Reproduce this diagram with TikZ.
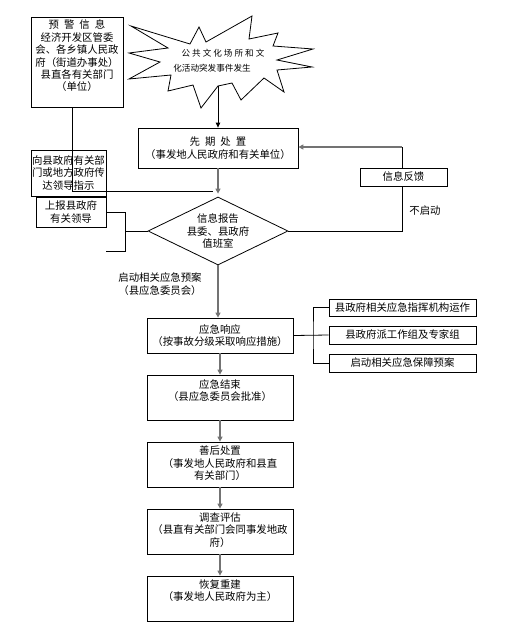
\documentclass[tikz,border=0pt]{standalone}
\usepackage{fontspec}
\setmainfont{Noto Sans CJK SC}
\usetikzlibrary{arrows.meta,shapes.geometric,backgrounds}
\begin{document}
\begin{tikzpicture}[x=1pt,y=-1pt,
  box/.style={draw, line width=0.8pt, fill=white, inner sep=0pt},
  txt/.style={align=center, inner sep=0pt, font=\fontsize{10.4}{12.4}\selectfont},
  ln/.style={line width=0.8pt},
  arr/.style={ln, -{Triangle[length=5pt,width=4.5pt]}},
  garr/.style={line width=1.3pt, draw=black!55, -{Triangle[length=5pt,width=5pt]}}
]
\useasboundingbox (0,0) rectangle (506,635);

% warning box
\node[box, minimum width=92pt, minimum height=90pt] (warn) at (77,62) {};
\node[txt] (warnt) at (77,56) {预\hspace{5pt}警\hspace{5pt}信\hspace{5pt}息\\经济开发区管委\\会、各乡镇人民政\\府（街道办事处）\\县直各有关部门\\（单位）};

% starburst
\draw[ln, fill=white] (131,26) -- (190,44) -- (199,27) -- (206,42) -- (252,16) -- (249,39)
  -- (278,33) -- (273,46) -- (313,49) -- (277,60) -- (312,67) -- (277,70) -- (284,92)
  -- (264,78) -- (241,100) -- (232,83) -- (218,86) -- (201,108) -- (193,85) -- (168,91)
  -- (171,75) -- (129,79) -- (160,62) -- (129,53) -- (168,48) -- cycle;
\coordinate (burstbot) at (218,86);
\node[inner sep=0pt, font=\fontsize{8.6}{10}\selectfont] (bt1) at (223,53) {公\hspace{2pt}共\hspace{2pt}文\hspace{2pt}化\hspace{2pt}场\hspace{2pt}所\hspace{2pt}和\hspace{2pt}文};
\node[inner sep=0pt, font=\fontsize{8.6}{10}\selectfont] (bt2) at (212,68) {化活动突发事件发生};

% first response
\node[box, txt, minimum width=160pt, minimum height=40pt] (first) at (218,148) {先\hspace{5pt}期\hspace{5pt}处\hspace{5pt}置\\（事发地人民政府和有关单位）};

% diamond
\node[draw, ln, diamond, minimum width=140pt, minimum height=68pt, inner sep=0pt, fill=white] (dia) at (218,231) {};
\node[txt] (diat) at (dia) {信息报告\\县委、县政府\\值班室};

% left boxes
\node[box, txt, minimum width=75pt, minimum height=46pt] (conv) at (68.5,173) {向县政府有关部\\门或地方政府传\\达领导指示};
\node[box, txt, minimum width=70pt, minimum height=30pt] (rep) at (71,212) {上报县政府\\有关领导};

% feedback
\coordinate (fbtop) at (402,147);
\begin{pgfonlayer}{background}
\draw[ln] (dia.east) -| (fbtop);
\end{pgfonlayer}
\node[box, txt, minimum width=87pt, minimum height=18pt] (fb) at (403.5,177) {信息反馈};
\draw[garr] (fbtop) -- (fbtop -| first.east);
\node[txt] (nostart) at (425,211) {不启动};

% emergency response
\node[box, txt, minimum width=146pt, minimum height=35pt] (resp) at (220,335.5) {应急响应\\（按事故分级采取响应措施）};
\node[txt] (startlbl) at (160,284) {启动相关应急预案\\（县应急委员会）};

\node[box, txt, minimum width=147pt, minimum height=17pt] (r1) at (402.5,307.5) {县政府相关应急指挥机构运作};
\node[box, txt, minimum width=147pt, minimum height=18pt] (r2) at (402.5,335) {县政府派工作组及专家组};
\node[box, txt, minimum width=147pt, minimum height=18pt] (r3) at (402.5,363) {启动相关应急保障预案};
\coordinate (rv) at (313,335);

% lower chain
\node[box, minimum width=146pt, minimum height=45pt] (endb) at (220,397.5) {};
\node[txt] (endt) at (220,390.5) {应急结束\\（县应急委员会批准）};
\node[box, minimum width=146pt, minimum height=45pt] (after) at (220,464.5) {};
\node[txt] (aftert) at (220,463.5) {善后处置\\（事发地人民政府和县直\\有关部门）};
\node[box, minimum width=146pt, minimum height=45pt] (inv) at (220,531.5) {};
\node[txt] (invt) at (220,530) {调查评估\\（县直有关部门会同事发地政\\府）};
\node[box, minimum width=146pt, minimum height=45pt] (rec) at (220,598.5) {};
\node[txt] (rect) at (220,590.5) {恢复重建\\（事发地人民政府为主）};

% connectors
\draw[arr] (burstbot) -- (first.north);
\coordinate (lv) at (72,191);
\coordinate (lend) at (213,191);
\draw[ln] (warn.south -| lv) -- (lv) -- (lend);
\draw[garr, shorten >=3pt] (first.south) -- (dia.north);

\coordinate (b1) at (125,212);
\coordinate (b2) at (125,251);
\coordinate (b3) at (106,251);
\coordinate (bm) at (125,231);
\draw[ln] (rep.east) -- (b1) -- (b2) -- (b3);
\draw[ln] (bm) -- (dia.west);

\draw[garr] (dia.south) -- (dia.south |- resp.north);
\draw[ln] (resp.east) -- (r2.west);
\draw[ln] (r1.west) -| (rv) |- (r3.west);

\draw[garr] (resp.south) -- (endb.north);
\draw[garr] (endb.south) -- (after.north);
\draw[garr] (after.south) -- (inv.north);
\draw[garr] (inv.south) -- (rec.north);
\end{tikzpicture}
\end{document}
